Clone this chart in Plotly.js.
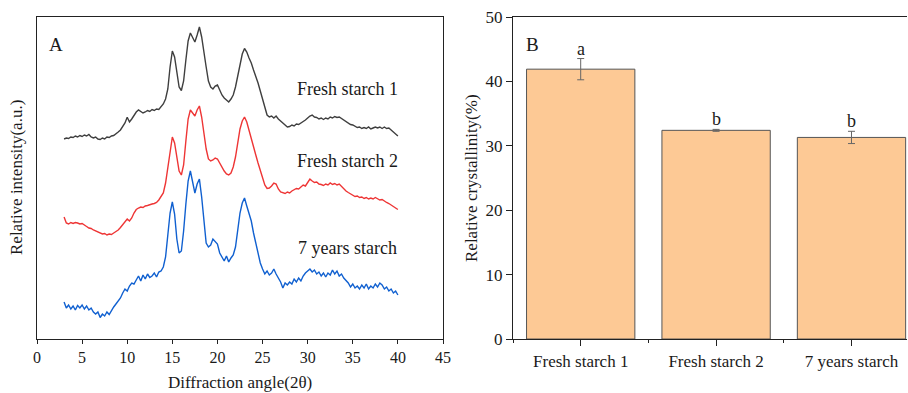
<!DOCTYPE html>
<html>
<head>
<meta charset="utf-8">
<script src="https://cdn.plot.ly/plotly-3.0.1.min.js"></script>
<style>html,body{margin:0;padding:0;background:#fff;}#chart{width:908px;height:393px;}</style>
</head>
<body>
<div id="chart"></div>
<script>
// ---------- Panel A: XRD patterns (angle grid 3.00 .. 40.00, step 0.25) ----------
const angleStart = 3;
const angleStep = 0.25;
const seriesNames = ['Fresh starch 1', 'Fresh starch 2', '7 years starch'];

const fresh1 = [
  200, 201, 200.5, 202, 201.5, 203, 202, 203.5,
  202.5, 204, 203, 204.5, 202, 201, 202, 200,
  199.5, 201, 200, 202, 201.5, 203, 203.5, 205,
  207, 209, 212, 216, 221.7, 217, 220, 224,
  227, 229, 227, 226, 227, 228.5, 227.5, 229.5,
  228.5, 230, 229.5, 232, 235, 240, 250, 272,
  288, 282, 265, 252, 248.5, 258, 279, 298,
  306, 302, 297, 304, 312, 302, 289, 272,
  258, 252, 250, 253, 254, 248, 244, 241,
  239, 237, 240, 244, 252, 262, 275, 285,
  290.5, 287, 281, 276, 269, 263, 256, 248,
  239, 230, 224, 222, 223, 221, 223, 220,
  218, 215, 213.5, 212, 212.5, 214, 213, 215,
  214.5, 216, 217, 219, 221, 223, 224, 222,
  221.5, 220, 221, 219.5, 221, 220, 222, 221,
  222.5, 221.5, 222, 220.5, 219, 217, 216, 214.5,
  214, 213, 211.5, 212, 210.5, 211.5, 210.5, 212,
  210, 211, 212, 211, 212, 210.5, 212, 210.5,
  211, 209, 207, 205, 203
];

const fresh2 = [
  122, 116, 115, 116.5, 115.5, 116.5, 116, 115,
  115.5, 113.5, 112.5, 111, 110.5, 109, 108, 106.5,
  106, 105, 105.5, 104, 105, 104.5, 106, 107.5,
  109, 111.5, 114, 117, 120, 118, 121, 126,
  129.5, 131, 132, 131.5, 133, 133.5, 134.5, 135,
  135.5, 136.5, 139, 142, 146, 156, 172, 190,
  202, 196, 180, 168, 164, 174, 198, 220,
  229, 226, 223, 229, 233, 222, 206, 190,
  180, 178, 179, 181, 180, 176, 171, 168,
  165, 164, 166, 172, 182, 196, 210, 218,
  222, 217, 208, 200, 191, 184, 176, 168,
  160, 154, 150.5, 151, 153, 156, 155, 150,
  147, 146, 145.5, 147, 146, 148, 149, 150.5,
  150, 152, 154, 153, 157, 160, 158, 156.5,
  157, 155, 154.5, 153.5, 155, 154, 156, 154.5,
  155.5, 154, 155, 152.5, 150.5, 148, 146.5, 145,
  143.5, 142.5, 143, 141.5, 142, 140.5, 141.5, 140,
  141, 140, 141.5, 140.5, 139, 139.5, 137.5, 136.5,
  135.5, 134, 132.5, 131, 129.5
];

const years7 = [
  37, 31, 34, 30, 33, 29, 33.5, 31,
  34, 30, 33, 29, 31, 27, 25, 27,
  21.5, 25, 23, 27, 24.5, 29, 32, 35,
  38, 41, 46, 50, 48, 53, 56, 55,
  59, 63, 58, 64, 60, 65, 61.5, 63,
  66, 62, 67, 68, 72, 82, 104, 126,
  137, 125, 100, 86, 88, 108, 135, 158,
  168, 158, 146, 155, 160, 142, 118, 96,
  92, 94, 100, 97, 95, 86, 82, 78,
  83, 77, 81, 84, 92, 108, 126, 136,
  141, 133, 126, 118, 106, 95, 84, 76,
  70, 65, 68, 64, 66, 70, 65, 61,
  57, 51, 56, 54, 57, 55, 60, 57,
  61, 58, 63, 66, 68, 70, 67, 69,
  65, 67, 63, 66, 62, 66, 64, 69,
  65, 68, 63, 65, 61, 59, 56, 52,
  55, 51, 53, 50, 54, 51, 55, 50,
  53, 51, 55, 52, 56, 54, 50, 52,
  48, 50, 46, 48, 44
];

const lineColors = ['#3f3f3f', '#ee3535', '#1060d0'];

// ---------- Panel B: relative crystallinity ----------
const samples = ['Fresh starch 1', 'Fresh starch 2', '7 years starch'];
const crystallinity = [41.9, 32.4, 31.3];
const crystErr = [1.65, 0.15, 0.95];
const sigLetters = ['a', 'b', 'b'];

const FONT = 'Liberation Serif, Times New Roman, serif';
const W = 908, H = 393;
const px = v => v / W;
const py = v => 1 - v / H;

const traces = [];
[fresh1, fresh2, years7].forEach((ys, i) => {
  traces.push({
    type: 'scatter', mode: 'lines', name: seriesNames[i],
    x0: angleStart, dx: angleStep, y: ys,
    xaxis: 'x', yaxis: 'y',
    line: {color: lineColors[i], width: 1.4},
    showlegend: false, hoverinfo: 'skip'
  });
});

traces.push({
  type: 'bar', x: samples, y: crystallinity,
  xaxis: 'x2', yaxis: 'y2', width: 0.8,
  marker: {color: '#fdc995', line: {color: '#555555', width: 1}},
  error_y: {type: 'data', array: crystErr, visible: true, color: '#666666', thickness: 1, width: 3.5},
  showlegend: false, hoverinfo: 'skip'
});
// invisible companion trace so the boundary-tick axis is drawn
traces.push({
  type: 'scatter', mode: 'markers', x: samples, y: crystallinity,
  xaxis: 'x3', yaxis: 'y2', marker: {opacity: 0},
  showlegend: false, hoverinfo: 'skip'
});

const yDom = [1 - 339 / H, 1 - 17 / H];
const axLine = '#222222';

const annotations = [
  {text: 'A', x: px(56), y: py(44), font: {size: 19}},
  {text: 'B', x: px(532), y: py(44), font: {size: 19}},
  {text: seriesNames[0], x: px(347), y: py(89), font: {size: 18}},
  {text: seriesNames[1], x: px(347), y: py(161), font: {size: 18}},
  {text: seriesNames[2], x: px(347), y: py(248), font: {size: 18}},
  {text: 'Diffraction angle(2θ)', x: px(240), y: py(382)},
  {text: 'Relative intensity(a.u.)', x: px(17), y: py(178), textangle: -90},
  {text: 'Relative crystallinity(%)', x: px(472), y: py(178), textangle: -90}
].map(a => {
  const size = (a.font && a.font.size) || 17;
  return Object.assign({xref: 'paper', yref: 'paper', showarrow: false,
    xanchor: 'center', yanchor: 'middle'}, a, {font: {family: FONT, size: size, color: '#1a1a1a'}});
});

samples.forEach((s, i) => {
  annotations.push({
    xref: 'x2', yref: 'y2', x: s, y: crystallinity[i] + crystErr[i],
    text: sigLetters[i], showarrow: false, xanchor: 'center', yanchor: 'middle',
    yshift: 10, font: {family: FONT, size: 18, color: '#1a1a1a'}
  });
});

const layout = {
  width: W, height: H,
  margin: {l: 0, r: 0, t: 0, b: 0},
  paper_bgcolor: '#ffffff', plot_bgcolor: '#ffffff',
  font: {family: FONT, size: 16, color: '#1a1a1a'},
  xaxis: {
    domain: [px(37), px(443)], anchor: 'y', range: [0, 45], dtick: 5, tick0: 0,
    ticks: 'outside', ticklen: 4, tickwidth: 1, tickcolor: axLine,
    showline: true, mirror: true, linecolor: axLine, linewidth: 1.2,
    showgrid: false, zeroline: false, tickfont: {family: FONT, size: 16}
  },
  yaxis: {
    domain: yDom, anchor: 'x', range: [0, 322],
    showticklabels: false, ticks: '',
    showline: true, mirror: true, linecolor: axLine, linewidth: 1.2,
    showgrid: false, zeroline: false
  },
  xaxis2: {
    domain: [px(513), px(907)], anchor: 'y2', type: 'category',
    categoryorder: 'array', categoryarray: samples, range: [-0.5, 2.41],
    ticks: 'outside', ticklen: 6, tickwidth: 1, tickcolor: axLine,
    showline: true, mirror: true, linecolor: axLine, linewidth: 1.2,
    showgrid: false, zeroline: false, tickfont: {family: FONT, size: 17}
  },
  xaxis3: {
    overlaying: 'x2', anchor: 'y2', type: 'category',
    categoryorder: 'array', categoryarray: samples, range: [-0.5, 2.41],
    tickson: 'boundaries', ticks: 'outside', ticklen: 3, tickwidth: 1, tickcolor: axLine,
    showticklabels: false, showline: false, showgrid: false, zeroline: false
  },
  yaxis2: {
    domain: yDom, anchor: 'x2', range: [0, 50], dtick: 10, tick0: 0,
    ticks: 'outside', ticklen: 6, tickwidth: 1, tickcolor: axLine,
    showline: true, linecolor: axLine, linewidth: 1.2,
    showgrid: false, zeroline: false, tickfont: {family: FONT, size: 17}
  },
  annotations: annotations
};

Plotly.newPlot('chart', traces, layout, {displayModeBar: false, staticPlot: true});
</script>
</body>
</html>
